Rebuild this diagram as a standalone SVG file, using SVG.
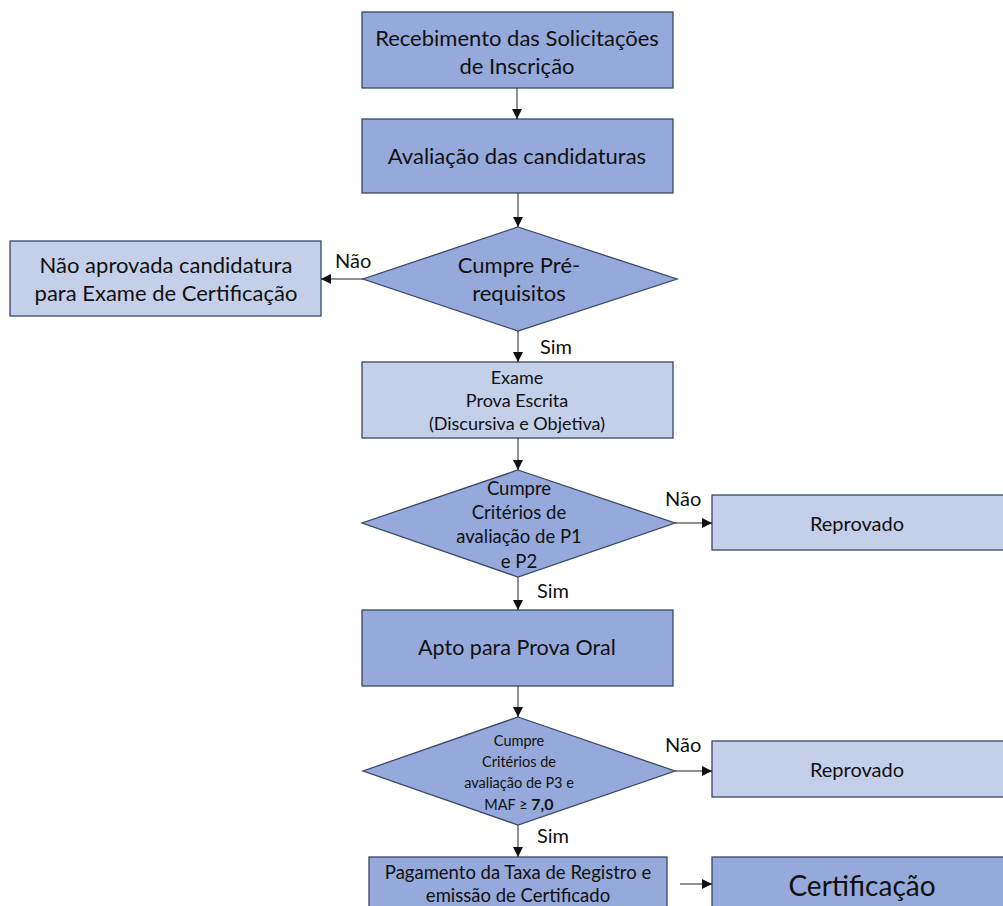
<svg xmlns="http://www.w3.org/2000/svg" width="1003" height="906" viewBox="0 0 1003 906">
<style>
.dk{fill:#95a9db;stroke:#3a4766;stroke-width:1.3}
.lt{fill:#c4cfe9;stroke:#3a4766;stroke-width:1.3}
text{font-family:Lato,"Open Sans",sans-serif;fill:#111;text-anchor:middle}
.c{stroke:#222;stroke-width:1;fill:none;marker-end:url(#ah)}
.lb{text-anchor:start;font-size:20px}
</style>
<defs>
<marker id="ah" viewBox="0 0 10 10" refX="10" refY="5" markerWidth="10" markerHeight="10" markerUnits="userSpaceOnUse" orient="auto">
<path d="M0,0 L10,5 L0,10 z" fill="#111"/>
</marker>
</defs>
<rect width="1003" height="906" fill="#fff"/>
<g id="n1"><rect class="dk" x="362" y="12" width="311" height="76"/>
<text x="517" y="46" font-size="22">Recebimento das Solicitações</text>
<text x="517" y="74" font-size="22">de Inscrição</text></g>
<g id="n2"><rect class="dk" x="362" y="119" width="311" height="74"/>
<text x="517" y="164" font-size="22">Avaliação das candidaturas</text></g>
<g id="d1"><polygon class="dk" points="518,227 677,279 518,331 363,279"/>
<text x="519" y="273" font-size="22">Cumpre Pré-</text>
<text x="519" y="301" font-size="22">requisitos</text></g>
<g id="n3"><rect class="lt" x="10" y="241" width="311" height="75"/>
<text x="166" y="273" font-size="22">Não aprovada candidatura</text>
<text x="166" y="301" font-size="22">para Exame de Certificação</text></g>
<g id="n4"><rect class="lt" x="362" y="362" width="311" height="76"/>
<text x="517" y="384" font-size="18">Exame</text>
<text x="517" y="407" font-size="18">Prova Escrita</text>
<text x="517" y="430" font-size="18">(Discursiva e Objetiva)</text></g>
<g id="d2"><polygon class="dk" points="518,470 675,523 518,577 362,523"/>
<text x="519" y="495" font-size="18.5">Cumpre</text>
<text x="519" y="519" font-size="18.5">Critérios de</text>
<text x="519" y="543" font-size="18.5">avaliação de P1</text>
<text x="519" y="568" font-size="18.5">e P2</text></g>
<g id="n5"><rect class="lt" x="712" y="495" width="300" height="55"/>
<text x="857" y="531" font-size="20">Reprovado</text></g>
<g id="n6"><rect class="dk" x="362" y="610" width="311" height="76"/>
<text x="517" y="655" font-size="21.5">Apto para Prova Oral</text></g>
<g id="d3"><polygon class="dk" points="518,717 675,771 518,825 363,771"/>
<text x="519" y="746" font-size="14.5">Cumpre</text>
<text x="519" y="767" font-size="14.5">Critérios de</text>
<text x="519" y="788" font-size="14.5">avaliação de P3 e</text>
<text x="519" y="810" font-size="14.5">MAF ≥ <tspan font-weight="bold" font-size="16">7,0</tspan></text></g>
<g id="n7"><rect class="lt" x="712" y="741" width="300" height="56"/>
<text x="857" y="777" font-size="20">Reprovado</text></g>
<g id="n8"><rect class="dk" x="369" y="857" width="298" height="60"/>
<text x="518" y="879" font-size="18.5">Pagamento da Taxa de Registro e</text>
<text x="518" y="902" font-size="18.5">emissão de Certificado</text></g>
<g id="n9"><rect class="dk" x="712" y="857" width="300" height="60"/>
<text x="862" y="896" font-size="28">Certificação</text></g>
<g id="connectors">
<line class="c" x1="517" y1="88" x2="517" y2="119"/>
<line class="c" x1="518" y1="193" x2="518" y2="227"/>
<line class="c" x1="363" y1="279" x2="321" y2="279"/>
<line class="c" x1="518" y1="331" x2="518" y2="362"/>
<line class="c" x1="518" y1="438" x2="518" y2="470"/>
<line class="c" x1="675" y1="523" x2="712" y2="523"/>
<line class="c" x1="518" y1="577" x2="518" y2="610"/>
<line class="c" x1="518" y1="686" x2="518" y2="717"/>
<line class="c" x1="675" y1="771" x2="712" y2="771"/>
<line class="c" x1="518" y1="825" x2="518" y2="857"/>
<line class="c" x1="680" y1="884" x2="712" y2="884"/>
<text class="lb" x="335" y="268">Não</text>
<text class="lb" x="540" y="354">Sim</text>
<text class="lb" x="665" y="506">Não</text>
<text class="lb" x="537" y="598">Sim</text>
<text class="lb" x="665" y="752">Não</text>
<text class="lb" x="537" y="843">Sim</text>
</g>
</svg>
